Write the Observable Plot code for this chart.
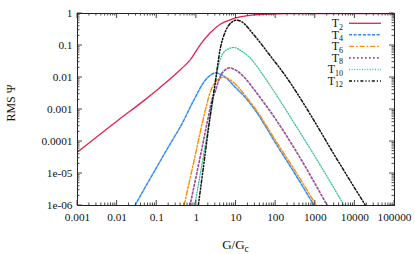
<!DOCTYPE html>
<html><head><meta charset="utf-8">
<script src="https://cdn.jsdelivr.net/npm/d3@7"></script>
<script src="https://cdn.jsdelivr.net/npm/@observablehq/plot@0.6"></script>
<style>
body{margin:0;background:#fff}
svg, svg text{font-family:"Liberation Serif",serif !important}
</style>
</head><body><div id="chart"></div>
<script>
// ---- data ----
const seriesSubs = ["2","4","6","8","10","12"];
const seriesColors = ["#e3234e","#2f8bff","#ff8c00","#9a4f9f","#3cc39a","#111111"];

const t2G = [0.001,0.01,0.05,0.1,0.22,0.4,0.7,1.26,2.24,4,7.1,12.6,25,63,200,100000];
const t2V = [4.7e-5,4.4e-4,2.0e-3,4.0e-3,9.1e-3,0.0178,0.0355,0.107,0.25,0.46,0.63,0.78,0.89,0.965,0.993,1];

const t4G = [0.0282,0.05,0.1,0.25,0.39,0.85,1.66,2.24,3.0,4.0,5.4,9.5,17,31.6,100,316,933];
const t4V = [1e-6,3.55e-6,1.58e-5,1.12e-4,2.8e-4,1.9e-3,8.1e-3,0.0117,0.0138,0.0126,0.0102,5.0e-3,2.4e-3,8.9e-4,8.9e-5,9.3e-6,1e-6];

const t6G = [0.49,0.89,1.66,2.24,3.0,4.0,4.9,7.1,9.5,17,31.6,100,316,1070];
const t6V = [1e-6,2.8e-5,8.9e-4,3.5e-3,7.1e-3,9.5e-3,0.0102,8.5e-3,6.3e-3,2.75e-3,1.0e-3,1.07e-4,1.17e-5,1e-6];

const t8G = [0.69,1.26,2.04,2.45,3.0,3.63,4.37,5.4,6.8,9.5,17,27.5,49,100,316,2000];
const t8V = [1e-6,3.5e-5,6.5e-4,1.9e-3,3.7e-3,7.9e-3,0.0132,0.0174,0.02,0.0174,9.5e-3,4.5e-3,1.74e-3,5.0e-4,5.4e-5,1e-6];

const t10G = [0.91,1.58,2.7,3.3,4.37,6.5,8.9,12.6,17,23,49,129,309,1000,5370];
const t10V = [1e-6,5.0e-5,2.5e-3,0.0141,0.049,0.079,0.087,0.072,0.056,0.04,0.0115,1.9e-3,3.4e-4,3.3e-5,1e-6];

const t12G = [1.12,1.58,2.24,3.0,4.0,5.4,7.9,10.5,14,27.5,72,190,630,3160,18600];
const t12V = [1e-6,2.5e-5,6.5e-4,7.1e-3,0.079,0.275,0.54,0.62,0.55,0.224,0.049,0.01,1.0e-3,3.5e-5,1e-6];

const xTicks = [0.001,0.01,0.1,1,10,100,1000,10000,100000];
const xTickLabels = ["0.001","0.01","0.1","1","10","100","1000","10000","100000"];
const yTicks = [1,0.1,0.01,0.001,0.0001,1e-5,1e-6];
const yTickLabels = ["1","0.1","0.01","0.001","0.0001","1e-05","1e-06"];

// ---- styles ----
const widths = [1.3,1.5,1.4,1.7,1.3,1.5];
const dashes = [null,"3,1.6","5,2,1.6,2","1.7,2.3","1,1.6","3,2,1.2,2,1.2,2"];
const FONT = '"Liberation Serif", serif';

const seriesG = [t2G,t4G,t6G,t8G,t10G,t12G];
const seriesV = [t2V,t4V,t6V,t8V,t10V,t12V];

const same = (a, b) => Math.abs(a - b) / b < 1e-9;
const xMinor = d3.scaleLog().domain([1e-3,1e5]).ticks().filter(v => !xTicks.some(t => same(v, t)));
const yMinor = d3.scaleLog().domain([1e-6,1]).ticks().filter(v => !yTicks.some(t => same(v, t)));

const lineMarks = seriesG.map((G, i) =>
  Plot.line(G.map((g, j) => ({g, v: seriesV[i][j]})), {
    x: "g", y: "v", stroke: seriesColors[i], strokeWidth: widths[i],
    strokeDasharray: dashes[i], curve: "monotone-x", clip: true
  })
);

const plot = Plot.plot({
  width: 415, height: 254,
  marginTop: 13, marginBottom: 49, marginLeft: 77, marginRight: 21,
  style: {fontFamily: FONT, fontSize: "11.3px", background: "#fff"},
  x: {type: "log", domain: [1e-3, 1e5]},
  y: {type: "log", domain: [1e-6, 1]},
  marks: [
    ...lineMarks,
    Plot.frame({stroke: "#222", strokeWidth: 1}),
    Plot.axisX(xTicks, {anchor: "bottom", tickSize: 0, tickPadding: 7, tickFormat: d => xTickLabels[xTicks.indexOf(d)], label: null, fill: "#111"}),
    Plot.axisY(yTicks, {anchor: "left", tickSize: 0, tickPadding: 5, tickFormat: d => yTickLabels[yTicks.indexOf(d)], label: null, fill: "#111"})
  ]
});

document.getElementById("chart").appendChild(plot);

// ---- inward ticks, axis titles and legend overlay ----
const svg = d3.select(plot);
const xs = plot.scale("x"), ys = plot.scale("y");
const [fx0, fx1] = xs.range;
const fyB = Math.max(...ys.range), fyT = Math.min(...ys.range);

const tg = svg.append("g").attr("stroke", "#333").attr("stroke-width", 0.9);
const addX = (vals, len) => vals.forEach(v => {
  const px = xs.apply(v);
  tg.append("line").attr("x1", px).attr("x2", px).attr("y1", fyB).attr("y2", fyB - len);
  tg.append("line").attr("x1", px).attr("x2", px).attr("y1", fyT).attr("y2", fyT + len);
});
const addY = (vals, len) => vals.forEach(v => {
  const py = ys.apply(v);
  tg.append("line").attr("y1", py).attr("y2", py).attr("x1", fx0).attr("x2", fx0 + len);
  tg.append("line").attr("y1", py).attr("y2", py).attr("x1", fx1).attr("x2", fx1 - len);
});
addX(xTicks, 5); addX(xMinor, 2.5);
addY(yTicks, 5); addY(yMinor, 2.5);

const xl = svg.append("text").attr("x", (fx0 + fx1) / 2).attr("y", 249)
  .attr("text-anchor", "middle").attr("font-size", 13).attr("font-family", FONT).attr("fill", "#111");
xl.append("tspan").text("G/G");
xl.append("tspan").attr("dy", 3).attr("font-size", 9.5).text("c");

svg.append("text").attr("transform", `translate(14.5,103) rotate(-90)`)
  .attr("text-anchor", "middle").attr("font-size", 12).attr("font-family", FONT).attr("fill", "#111").text("RMS Ψ");

const lg = svg.append("g");
seriesSubs.forEach((s, i) => {
  const y = fyT + 10.3 + i * 11.55;
  const t = lg.append("text").attr("x", fx1 - 51).attr("y", y + 3.8)
    .attr("text-anchor", "end").attr("font-size", 12).attr("font-family", FONT).attr("fill", "#111");
  t.append("tspan").text("T");
  t.append("tspan").attr("dy", 2.6).attr("font-size", 8).text(s);
  lg.append("line").attr("x1", fx1 - 45).attr("x2", fx1 - 13).attr("y1", y).attr("y2", y)
    .attr("stroke", seriesColors[i]).attr("stroke-width", widths[i])
    .attr("stroke-dasharray", dashes[i]);
});
</script>
</body></html>
